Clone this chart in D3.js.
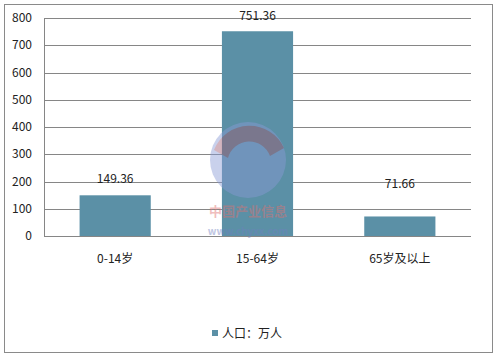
<!DOCTYPE html>
<head>
  <meta charset="utf-8">
  <script src="https://d3js.org/d3.v7.min.js"></script>
  <style>
    body { margin:0; padding:0; background:#fff; }
    text { font-family: "Noto Sans CJK SC", "DejaVu Sans", sans-serif; fill:#222; }
  </style>
</head>
<body>
  <script>
    var categories = ["0-14岁", "15-64岁", "65岁及以上"];
    var values = [149.36, 751.36, 71.66];
    var labelValues = ["149.36", "751.36", "71.66"];
    var yTicks = [0, 100, 200, 300, 400, 500, 600, 700, 800];
    var seriesName = "人口：万人";

    var width = 499, height = 359;
    var margin = {top:18, right:28, bottom:123, left:44};
    var barColor = "#5b90a6";

    var svg = d3.select("body").append("svg")
      .attr("width", width).attr("height", height);

    // outer frame
    svg.append("rect")
      .attr("x", 4.5).attr("y", 4.5)
      .attr("width", 488).attr("height", 348)
      .attr("fill", "none").attr("stroke", "#8a8a8a");

    var x = d3.scaleBand().domain(categories)
      .range([margin.left, width - margin.right]).paddingInner(0.5).paddingOuter(0.25);
    var y = d3.scaleLinear().domain([0, 800])
      .range([height - margin.bottom, margin.top]);

    // gridlines
    svg.append("g").selectAll("line")
      .data(yTicks).enter().append("line")
      .attr("x1", margin.left).attr("x2", width - margin.right)
      .attr("y1", function(d){ return Math.round(y(d)) + 0.5; })
      .attr("y2", function(d){ return Math.round(y(d)) + 0.5; })
      .attr("stroke", "#868686");

    // left axis line
    svg.append("line")
      .attr("x1", margin.left + 0.5).attr("x2", margin.left + 0.5)
      .attr("y1", y(800)).attr("y2", y(0))
      .attr("stroke", "#868686");

    // y tick labels
    svg.append("g").selectAll("text")
      .data(yTicks).enter().append("text")
      .attr("x", 32).attr("y", function(d){ return y(d) + 4; })
      .attr("text-anchor", "end").attr("font-size", 12)
      .text(function(d){ return d; });

    // bars
    svg.append("g").selectAll("rect")
      .data(values).enter().append("rect")
      .attr("x", function(d, i){ return x(categories[i]); })
      .attr("width", x.bandwidth())
      .attr("y", function(d){ return y(d); })
      .attr("height", function(d){ return y(0) - y(d); })
      .attr("fill", barColor);

    // watermark
    var wm = svg.append("g").attr("opacity", 0.45);
    wm.append("circle").attr("cx", 248).attr("cy", 160).attr("r", 38).attr("fill", "#8a9ad6");
    wm.append("path").attr("d", "M214,150 A38,38 0 0 1 284,148 L270,156 A22,22 0 0 0 228,158 Z").attr("fill", "#a05a70");
    wm.append("text").attr("x", 248).attr("y", 216).attr("text-anchor", "middle")
      .attr("font-size", 13).attr("font-weight", "bold").style("fill", "#e07070").text("中国产业信息");
    wm.append("text").attr("x", 248).attr("y", 235).attr("text-anchor", "middle")
      .attr("font-size", 10).attr("font-weight", "bold").style("fill", "#7080c0").text("www.chyxx.com");

    // value labels
    var labelOffset = [12, 11, 28];
    svg.append("g").selectAll("text")
      .data(values).enter().append("text")
      .attr("x", function(d, i){ return x(categories[i]) + x.bandwidth() / 2; })
      .attr("y", function(d, i){ return y(d) - labelOffset[i]; })
      .attr("text-anchor", "middle").attr("font-size", 12)
      .text(function(d, i){ return labelValues[i]; });

    // category labels
    svg.append("g").selectAll("text")
      .data(categories).enter().append("text")
      .attr("x", function(d){ return x(d) + x.bandwidth() / 2; })
      .attr("y", 263)
      .attr("text-anchor", "middle").attr("font-size", 12)
      .text(function(d){ return d; });

    // legend
    svg.append("rect").attr("x", 212).attr("y", 330).attr("width", 6).attr("height", 6).attr("fill", barColor);
    svg.append("text").attr("x", 222).attr("y", 338).attr("font-size", 12).text(seriesName);
  </script>
</body>
